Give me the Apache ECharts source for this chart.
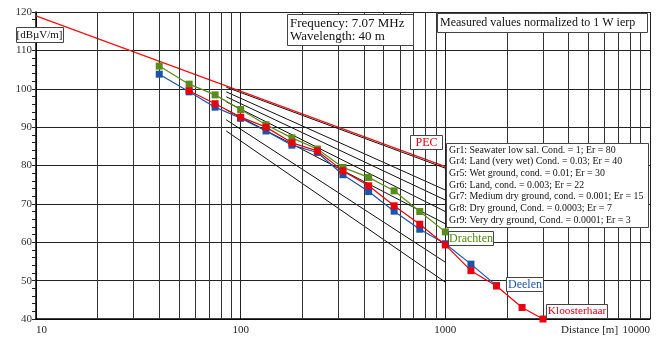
<!DOCTYPE html>
<html>
<head>
<meta charset="utf-8">
<script src="https://cdn.jsdelivr.net/npm/echarts@6/dist/echarts.min.js"></script>
<style>
  html, body { margin: 0; padding: 0; background: #fff; }
  #main { width: 670px; height: 339px; }
</style>
</head>
<body>
<div id="main"></div>
<script>
// measuring distances (m)
const measDist = [40, 56, 75, 100, 133, 178, 237, 316, 422, 562, 750, 1000, 1334, 1778, 2371, 3000]
const drachten = [105.9, 101.2, 98.4, 94.6, 90.6, 87.2, 84.3, 79.5, 76.9, 73.4, 68.0, 62.7, null, null, null, null]
const deelen = [103.8, 99.2, 95.2, 92.3, 89.0, 85.3, 83.4, 77.6, 73.2, 68.1, 63.4, 59.6, 54.3, 48.7, null, null]
const kloosterhaar = [null, 99.5, 96.1, 92.6, 90.0, 85.9, 83.8, 78.6, 74.7, 69.5, 64.7, 59.3, 52.6, 48.6, 43.0, 40.0]

// PEC reference line
const pecDist = [10, 1000]
const pecVals = [119.0, 79.7]

// ground wave curves, 85 m .. 1000 m
const groundDist = [85, 1000]
const gr1 = [100.4, 79.3]
const gr4 = [99.2, 73.6]
const gr5 = [97.9, 71.0]
const gr6 = [96.6, 68.0]
const gr7 = [94.5, 64.8]
const gr8 = [91.9, 54.8]
const gr9 = [89.0, 49.6]

const groundNames = [
  'Gr1: Seawater low sal. Cond. = 1; Er = 80',
  'Gr4: Land (very wet) Cond. = 0.03; Er = 40',
  'Gr5: Wet ground, cond. = 0.01; Er = 30',
  'Gr6: Land, cond. = 0.003; Er = 22',
  'Gr7: Medium dry ground, cond. = 0.001; Er = 15',
  'Gr8: Dry ground, Cond. = 0.0003; Er = 7',
  'Gr9: Very dry ground, Cond. = 0.0001; Er = 3'
]

// vertical grid lines between decades
const minorX = [20, 30, 40, 50, 60, 70, 80, 90, 200, 300, 400, 500, 600, 700, 800, 900, 2000, 3000, 4000, 5000, 6000, 7000, 8000, 9000]

const serif = '"Liberation Serif", "DejaVu Serif", serif'

function pairs (xs, ys) {
  return xs.map((x, i) => [x, ys[i]]).filter(p => p[1] !== null)
}

function groundSeries (name, vals) {
  return {
    name: name,
    type: 'line',
    data: pairs(groundDist, vals),
    symbol: 'none',
    silent: true,
    lineStyle: { color: '#111', width: 1 },
    z: 3
  }
}

function measSeries (name, vals, color) {
  return {
    name: name,
    type: 'line',
    data: pairs(measDist, vals),
    symbol: 'rect',
    symbolSize: 7,
    itemStyle: { color: color },
    lineStyle: { color: color, width: 1.2 },
    z: 5
  }
}

function box (x, y, w, h) {
  return {
    type: 'rect',
    shape: { x: x + 0.5, y: y + 0.5, width: w, height: h },
    style: { fill: '#fff', stroke: '#444', lineWidth: 1 },
    z: 20
  }
}

function label (txt, x, y, color, size, align) {
  return {
    type: 'text',
    x: x,
    y: y,
    style: {
      text: txt,
      fill: color,
      font: size + 'px ' + serif,
      align: align || 'center',
      verticalAlign: 'middle'
    },
    z: 21
  }
}

const chart = echarts.init(document.getElementById('main'))

const graphics = [
  box(16, 27, 47, 15), label('[dBµV/m]', 39.5, 35, '#111', 11),
  box(287, 14, 126, 31), label('Frequency: 7.07 MHz', 290, 23.5, '#111', 13, 'left'),
  label('Wavelength: 40 m', 290, 36.5, '#111', 13, 'left'),
  box(437, 13, 210, 19), label('Measured values normalized to 1 W ierp', 440, 23, '#111', 12, 'left'),
  box(410, 135, 32, 14), label('PEC', 426.5, 142.5, '#e00010', 12),
  box(446, 143, 202, 84),
  box(448, 231, 45, 14), label('Drachten', 471, 238.5, '#4f8a10', 12),
  box(506, 277, 37, 14), label('Deelen', 525, 284.5, '#1a55a8', 12),
  box(546, 304, 61, 14), label('Kloosterhaar', 577, 311.5, '#e00010', 11.3),
  label('Distance [m]', 589.5, 330, '#222', 11)
]
groundNames.forEach((t, i) => {
  graphics.push(label(t, 449, 150 + i * 11.65, '#111', 9.9, 'left'))
})

chart.setOption({
  animation: false,
  backgroundColor: '#fff',
  grid: { left: 36, right: 20, top: 12, bottom: 20 },
  xAxis: {
    type: 'log',
    logBase: 10,
    min: 10,
    max: 10000,
    axisLine: { show: true, lineStyle: { color: '#000', width: 1.5 } },
    axisTick: { show: false },
    axisLabel: {
      color: '#222',
      fontFamily: serif,
      fontSize: 11,
      margin: 6,
      alignMinLabel: 'left',
      alignMaxLabel: 'right',
      formatter: function (v) { return String(v) }
    },
    splitLine: { show: true, lineStyle: { color: '#222', width: 1 } }
  },
  yAxis: {
    type: 'value',
    min: 40,
    max: 120,
    interval: 10,
    axisLine: { show: true, lineStyle: { color: '#000', width: 1.5 } },
    axisTick: { show: true, length: 4, lineStyle: { color: '#222' } },
    minorTick: { show: true, splitNumber: 5, length: 4, lineStyle: { color: '#222' } },
    axisLabel: { color: '#333', fontFamily: serif, fontSize: 11, margin: 4, padding: [0, 0, 3, 0] },
    splitLine: { show: true, lineStyle: { color: '#222', width: 1 } }
  },
  series: [
    {
      name: 'grid',
      type: 'line',
      data: [],
      silent: true,
      markLine: {
        silent: true,
        symbol: ['none', 'none'],
        label: { show: false },
        lineStyle: { color: '#333', width: 1, type: 'solid' },
        data: minorX.map(v => ({ xAxis: v }))
      },
      z: 1
    },
    groundSeries('Gr1', gr1),
    groundSeries('Gr4', gr4),
    groundSeries('Gr5', gr5),
    groundSeries('Gr6', gr6),
    groundSeries('Gr7', gr7),
    groundSeries('Gr8', gr8),
    groundSeries('Gr9', gr9),
    {
      name: 'PEC',
      type: 'line',
      data: pairs(pecDist, pecVals),
      symbol: 'none',
      lineStyle: { color: '#ff1010', width: 1.2 },
      z: 4
    },
    measSeries('Deelen', deelen, '#1a55a8'),
    measSeries('Drachten', drachten, '#5a8c1c'),
    measSeries('Kloosterhaar', kloosterhaar, '#e8000f')
  ],
  graphic: graphics
})
</script>
</body>
</html>
